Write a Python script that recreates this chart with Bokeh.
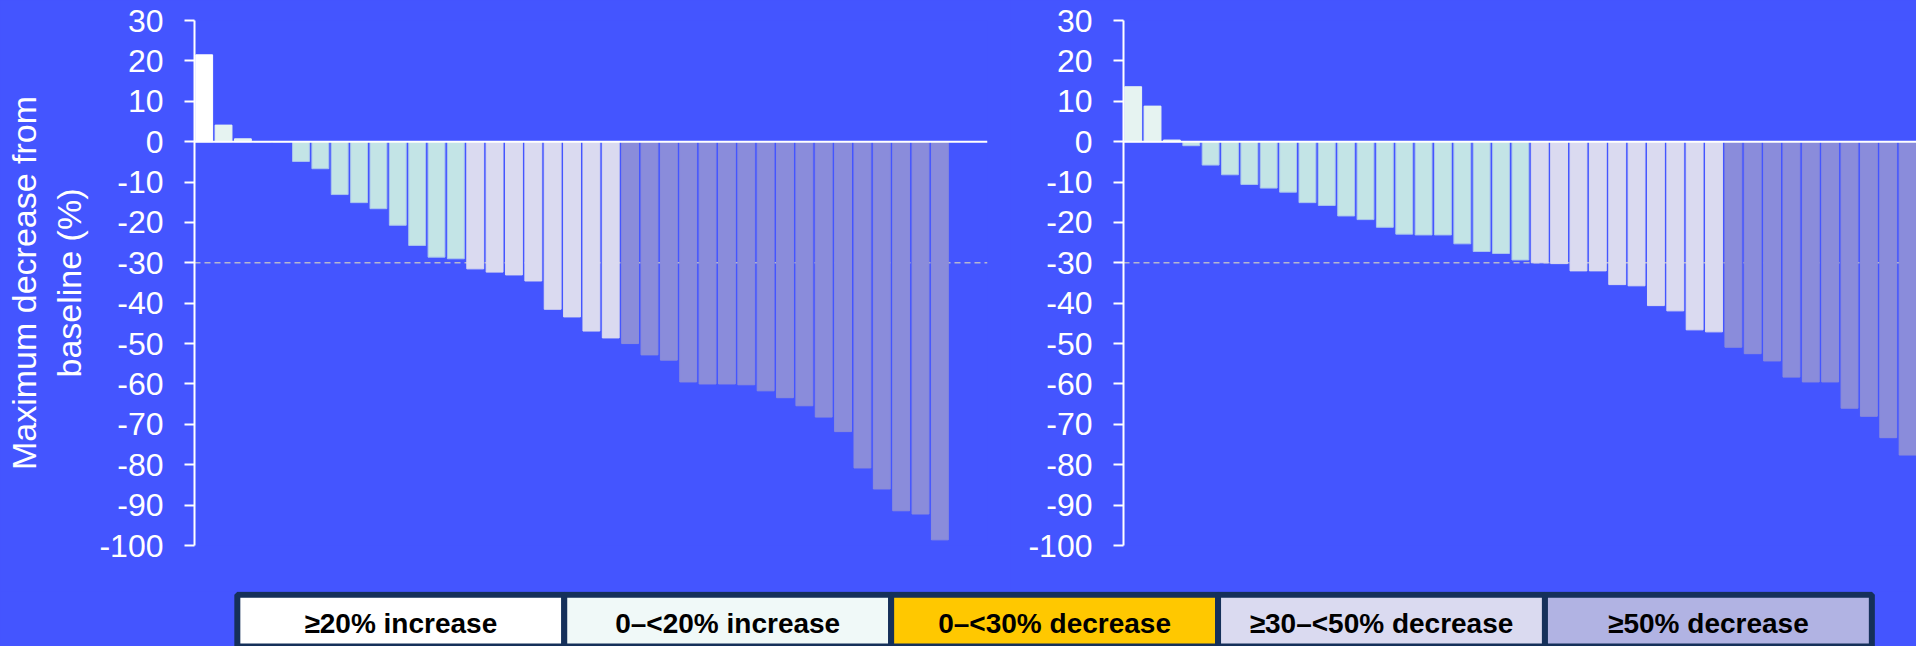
from bokeh.plotting import figure
from bokeh.models import Range1d, Span, FixedTicker, ColumnDataSource, GlobalInlineStyleSheet
from bokeh.layouts import row, column
from bokeh.embed import file_html
from bokeh.resources import INLINE
from bokeh.core.properties import value

# ---------------- data ----------------
left_values = [21.5, 4.1, 0.7, 0.0, 0.0, -4.9, -6.7, -13.1, -15.1, -16.6, -20.7, -25.7,
               -28.6, -29.0, -31.5, -32.3, -33.0, -34.5, -41.5, -43.4, -46.9, -48.6,
               -50.0, -52.8, -54.1, -59.5, -60.0, -60.0, -60.2, -61.7, -63.4, -65.4,
               -68.2, -71.8, -80.8, -86.0, -91.4, -92.2, -98.6]
right_values = [13.6, 8.8, 0.4, -1.0, -5.8, -8.2, -10.6, -11.5, -12.5, -15.1, -15.8, -18.4,
                -19.3, -21.2, -22.9, -23.1, -23.1, -25.3, -27.2, -27.7, -29.3, -30.0,
                -30.2, -32.0, -32.0, -35.4, -35.7, -40.6, -41.9, -46.6, -47.1, -50.9,
                -52.5, -54.3, -58.3, -59.5, -59.5, -66.0, -68.0, -73.3, -77.6]
y_ticks = [30, 20, 10, 0, -10, -20, -30, -40, -50, -60, -70, -80, -90, -100]
y_tick_labels = ["30", "20", "10", "0", "-10", "-20", "-30", "-40", "-50", "-60",
                 "-70", "-80", "-90", "-100"]
y_axis_title = "Maximum decrease from\nbaseline (%)"
legend_labels = ["≥20% increase", "0–<20% increase", "0–<30% decrease",
                 "≥30–<50% decrease", "≥50% decrease"]
legend_colors = ["#FFFFFF", "#F0F9F8", "#FFC800", "#DADAF0", "#B1B3E3"]
response_line = -30

# ---------------- styles ----------------
BG = "#4455FF"
NAVY = "#15305A"
C_INC20 = "#FFFFFF"
C_INC0 = "#E6F3F1"
C_DEC0 = "#C3E4E6"
C_DEC30 = "#DADAF0"
C_DEC50 = "#8A8CDB"
FONT = "Liberation Sans"


def bar_color(v):
    if v >= 20:
        return C_INC20
    if v > 0:
        return C_INC0
    if v > -30:
        return C_DEC0
    if v > -50:
        return C_DEC30
    return C_DEC50


def make_chart(values, width, border_left, frame_w, x_end, with_title):
    fills = [bar_color(v) for v in values]
    lines = ["#A9C4EE" if c == C_DEC0 else c for c in fills]
    src = ColumnDataSource(dict(x=list(range(len(values))), top=values,
                                fill=fills, line=lines))
    p = figure(width=width, height=591,
               x_range=Range1d(-0.5, x_end), y_range=Range1d(-100, 30),
               output_backend="svg", toolbar_location=None,
               min_border_left=border_left, min_border_right=width - border_left - frame_w,
               min_border_top=20, min_border_bottom=46)
    p.background_fill_color = BG
    p.border_fill_color = BG
    p.outline_line_color = None
    p.xgrid.visible = False
    p.ygrid.visible = False
    p.xaxis.visible = False

    p.add_layout(Span(location=response_line, dimension="width", line_color="#B4B6D0",
                      line_width=1.5, line_dash="6 4", level="underlay"))
    p.vbar(x="x", top="top", bottom=0, width=0.87, source=src,
           fill_color="fill", line_color="line", line_width=1)
    p.add_layout(Span(location=0, dimension="width", line_color="white", line_width=2))

    ax = p.yaxis[0]
    ax.ticker = FixedTicker(ticks=y_ticks)
    ax.major_label_overrides = {t: l for t, l in zip(y_ticks, y_tick_labels)}
    ax.major_label_text_font = FONT
    ax.major_label_text_font_size = "32px"
    ax.major_label_text_color = "white"
    ax.major_label_standoff = 21
    ax.axis_line_color = "white"
    ax.axis_line_width = 2
    ax.major_tick_line_color = "white"
    ax.major_tick_line_width = 2
    ax.major_tick_in = 0
    ax.major_tick_out = 10
    ax.minor_tick_line_color = None
    if with_title:
        ax.axis_label = y_axis_title
        ax.axis_label_text_font = FONT
        ax.axis_label_text_font_size = "34px"
        ax.axis_label_text_font_style = "normal"
        ax.axis_label_text_color = "white"
        ax.axis_label_standoff = 8
    return p


p1 = make_chart(left_values, 1010, 194, 793, 40.46, True)
p2 = make_chart(right_values, 906, 113, 793, 40.46, False)

# ---------------- legend strip ----------------
idx = list(range(len(legend_labels)))
lsrc = ColumnDataSource(dict(x=idx, label=legend_labels, fill=legend_colors))
p3 = figure(width=1916, height=55, x_range=Range1d(-1.2245, 4.6366), y_range=Range1d(0, 55),
            output_backend="svg", toolbar_location=None,
            x_axis_type=None, y_axis_type=None, min_border=0)
p3.background_fill_color = BG
p3.border_fill_color = BG
p3.outline_line_color = None
p3.xgrid.visible = False
p3.ygrid.visible = False
p3.vbar(x="x", top=51.8, bottom=-1, width=1.0, source=lsrc,
        fill_color="fill", line_color=NAVY, line_width=6)
p3.text(x="x", y=23.2, text="label", source=lsrc, text_align="center",
        text_baseline="middle", text_font=value(FONT), text_font_style="bold",
        text_font_size="28px", text_color="black")

layout = column(row(p1, p2, spacing=0), p3, spacing=0)
layout.stylesheets = [GlobalInlineStyleSheet(css="body{background-color:#4455FF;}")]

open("out.html", "w").write(file_html(layout, INLINE))
